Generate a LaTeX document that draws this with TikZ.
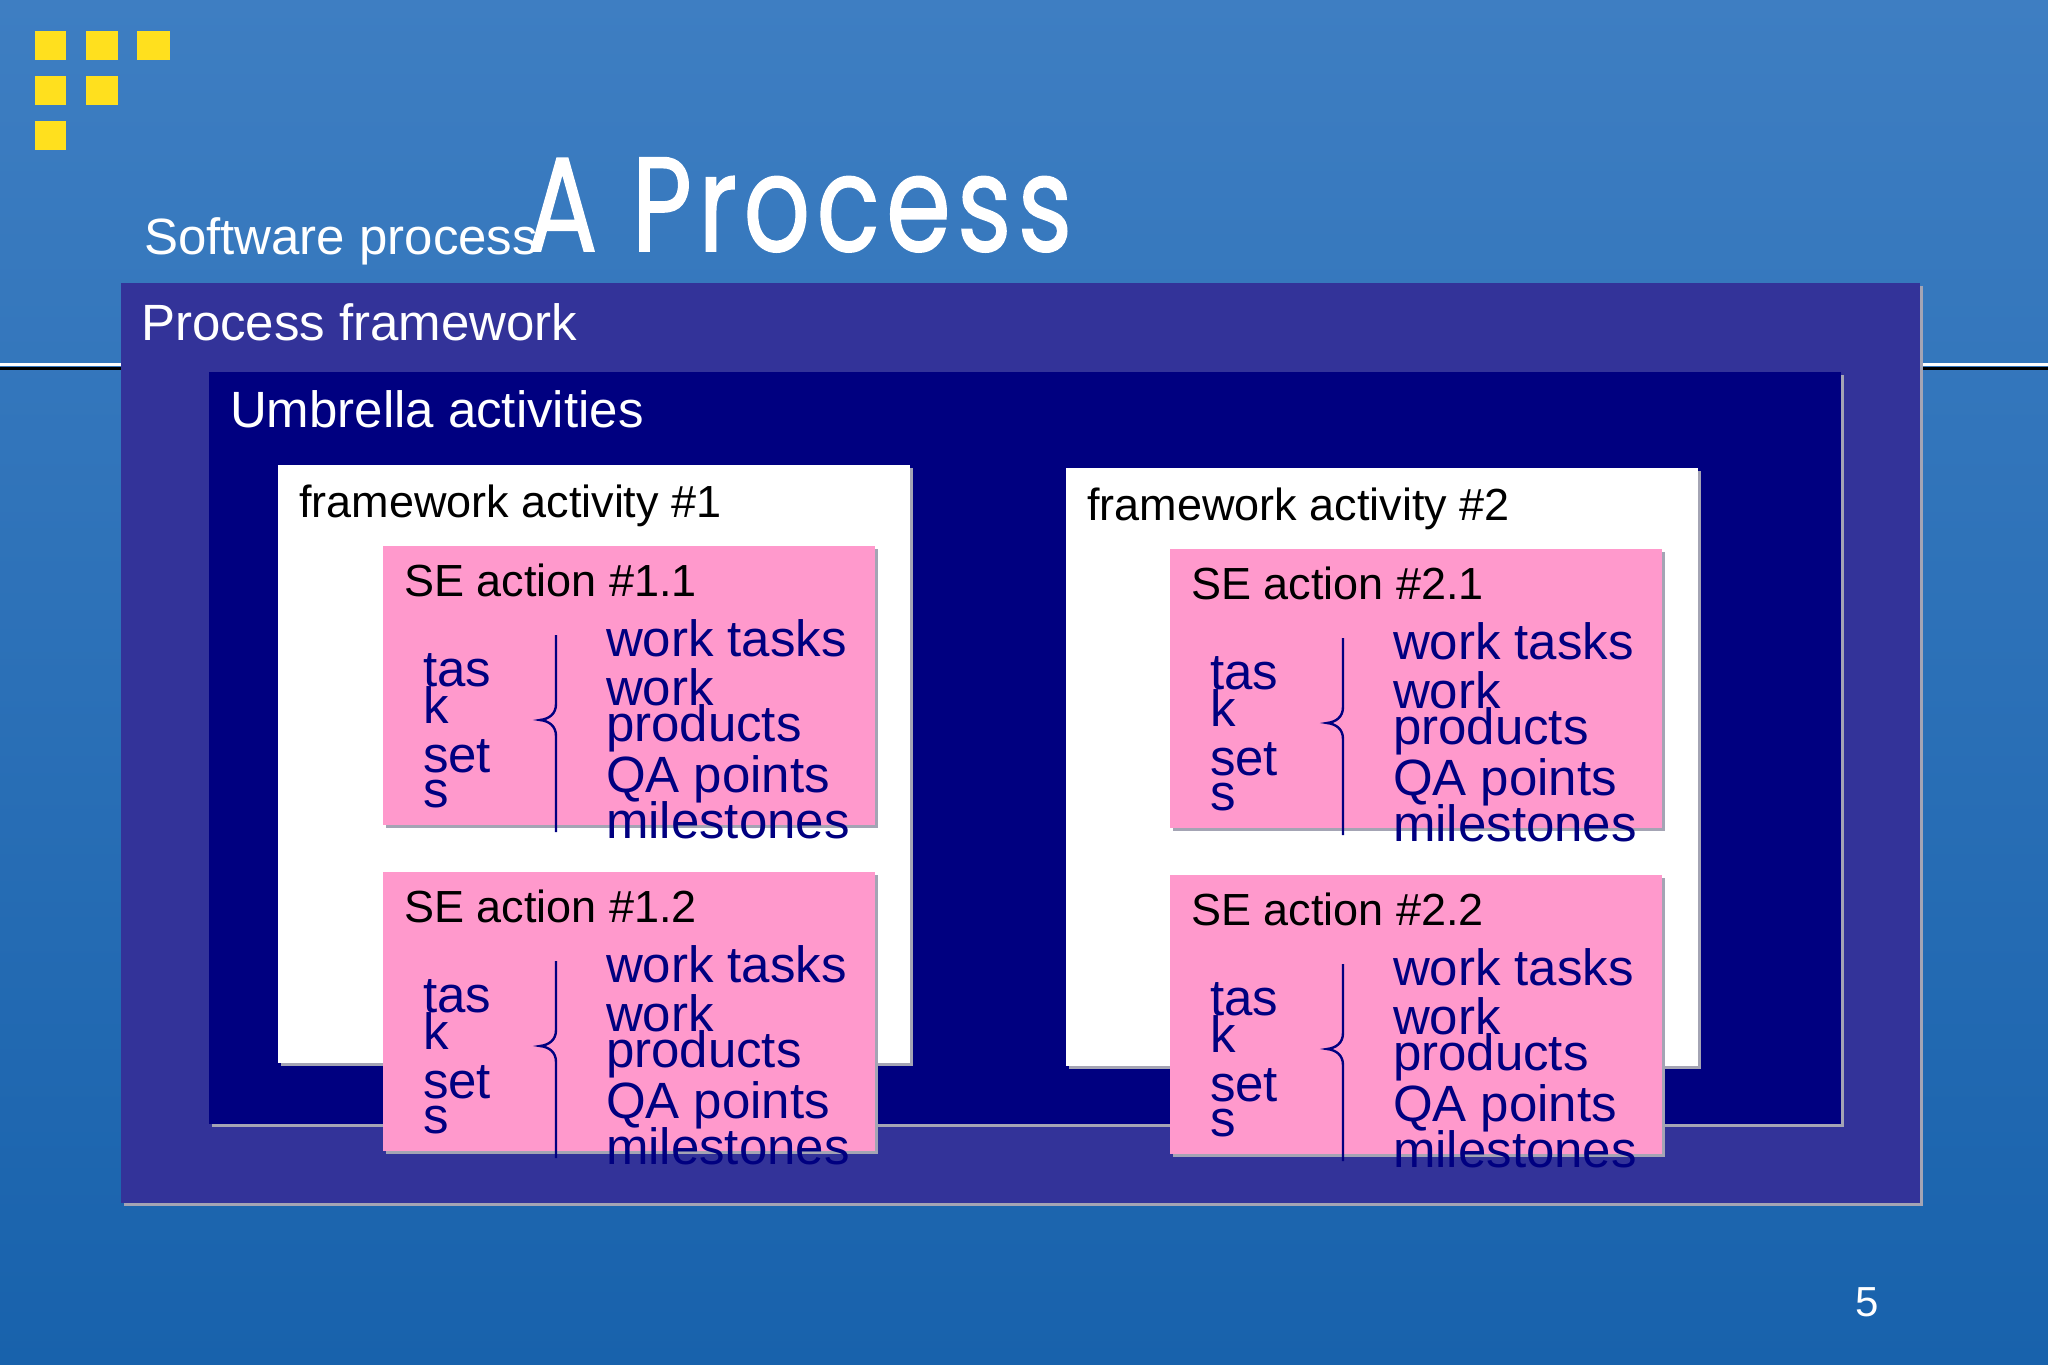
\documentclass[tikz,border=0pt]{standalone}
\usepackage{fontspec}
\usepackage{graphicx}
\setmainfont{Liberation Sans}
\newfontfamily\titlefont{Poppins}[LetterSpace=6,FakeBold=1.2]
\definecolor{bgtop}{HTML}{3E7EC2}
\definecolor{bgbot}{HTML}{1862AC}
\definecolor{frameC}{HTML}{333399}
\definecolor{umbC}{HTML}{000080}
\definecolor{pinkC}{HTML}{FF99CC}
\definecolor{shadC}{HTML}{A4A4B4}
\definecolor{logoC}{HTML}{FFE01E}
\definecolor{navyT}{HTML}{000080}
\newcommand{\fs}[1]{\fontsize{#1}{#1}\selectfont}
\newcommand{\seblock}[4]{%
  \begin{scope}[shift={(#2,#3)}]
    \node[boxn, sh, fill=pinkC, minimum width=492pt, minimum height=279pt] (#1box) at (0,0) {};
    \node[lbl, text=black] (#1title) at (21,50) {#4};
    \node[lbl, text=navyT] (#1ta) at (40,140) {tas};
    \node[lbl, text=navyT] (#1tb) at (40,177) {k};
    \node[lbl, text=navyT] (#1tc) at (40,226) {set};
    \node[lbl, text=navyT] (#1td) at (40,261) {s};
    \draw[bracel] (173,89) -- (173,158) .. controls (173,168) and (166,173) .. (157,174)
                  .. controls (166,175) and (173,180) .. (173,190) -- (173,286);
    \node[lbl, text=navyT] (#1la) at (223,110) {work tasks};
    \node[lbl, text=navyT] (#1lb) at (223,159) {work};
    \node[lbl, text=navyT] (#1lc) at (223,195) {products};
    \node[lbl, text=navyT] (#1ld) at (223,246) {QA points};
    \node[lbl, text=navyT] (#1le) at (223,292) {milestones};
  \end{scope}}
\begin{document}
\begin{tikzpicture}[x=1pt,y=-1pt,
  boxn/.style={anchor=north west, inner sep=0, outer sep=0},
  sh/.style={preaction={fill=shadC, transform canvas={shift={(3pt,-3pt)}}}},
  lbl/.style={anchor=base west, inner sep=0, outer sep=0, font=\fs{51}},
  small/.style={anchor=base west, inner sep=0, outer sep=0, font=\fs{45}},
  bracel/.style={draw=navyT, line width=2.4pt},
  logo/.style={fill=logoC}]
\useasboundingbox (0,0) rectangle (2048,1365);
% background
\shade[top color=bgtop, bottom color=bgbot] (0,0) rectangle (2048,1365);
% logo squares
\fill[logo] (35,31) rectangle (66,60);
\fill[logo] (86,31) rectangle (118,60);
\fill[logo] (137,31) rectangle (170,60);
\fill[logo] (35,76) rectangle (66,105);
\fill[logo] (86,76) rectangle (118,105);
\fill[logo] (35,121) rectangle (66,150);
% rule line
\fill[white] (0,362.5) rectangle (2048,366);
\fill[black] (0,366.5) rectangle (2048,369.5);
% titles
\node[lbl, text=white] (sub) at (144,254) {Software process};
\node[anchor=base west, inner sep=0, text=white] (title) at (527,251)
  {\resizebox{545pt}{\height}{\titlefont\fs{134}A Process}};
% process framework
\node[boxn, sh, fill=frameC, minimum width=1799pt, minimum height=920pt] (pf) at (121,283) {};
\node[lbl, text=white] (pft) at (141,340) {Process framework};
% umbrella
\node[boxn, sh, fill=umbC, minimum width=1632pt, minimum height=752pt] (ua) at (209,372) {};
\node[lbl, text=white] (uat) at (230,427) {Umbrella activities};
% framework activities
\node[boxn, sh, fill=white, minimum width=632pt, minimum height=598pt] (fa1) at (278,465) {};
\node[small, text=black] (fa1t) at (299,517) {framework activity \#1};
\node[boxn, sh, fill=white, minimum width=632pt, minimum height=598pt] (fa2) at (1066,468) {};
\node[small, text=black] (fa2t) at (1087,520) {framework activity \#2};
% SE actions
\seblock{a}{383}{546}{\fs{45}SE action \#1.1}
\seblock{b}{383}{872}{\fs{45}SE action \#1.2}
\seblock{c}{1170}{549}{\fs{45}SE action \#2.1}
\seblock{d}{1170}{875}{\fs{45}SE action \#2.2}
% page number
\node[anchor=base west, inner sep=0, text=white, font=\fs{42}] (pn) at (1855,1316) {5};
\end{tikzpicture}
\end{document}
